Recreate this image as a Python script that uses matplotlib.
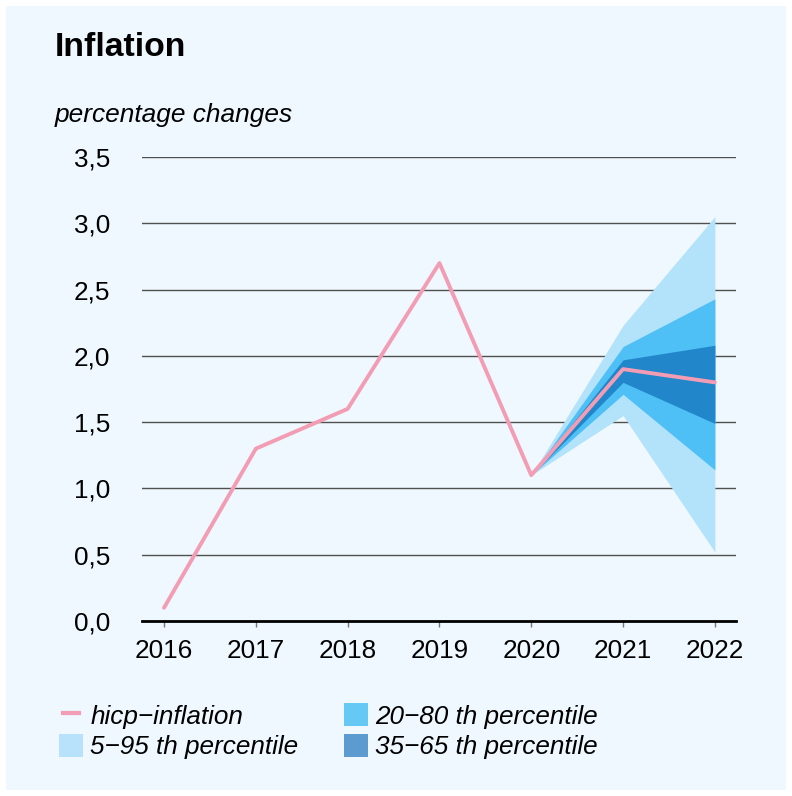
import numpy as np
import matplotlib
matplotlib.use('Agg')
from matplotlib import pyplot as plt
from matplotlib.patches import Rectangle, Patch
from matplotlib.lines import Line2D
from matplotlib.legend_handler import HandlerLine2D
from matplotlib.ticker import FuncFormatter

plt.rcParams['font.family'] = ['Liberation Sans', 'DejaVu Sans']

# data
years = [2016, 2017, 2018, 2019, 2020, 2021, 2022]
hicp = [0.1, 1.3, 1.6, 2.7, 1.1, 1.9, 1.8]

fan_years = [2020, 2021, 2022]
p05 = [1.1, 1.55, 0.52]
p95 = [1.1, 2.23, 3.05]
p20 = [1.1, 1.71, 1.14]
p80 = [1.1, 2.07, 2.43]
p35 = [1.1, 1.80, 1.49]
p65 = [1.1, 1.97, 2.08]

bg = '#eef8fe'
c_light, c_mid, c_dark = '#b3e2fb', '#4ec0f5', '#2186ca'
c_line = '#f29db4'


class ShortLine(HandlerLine2D):
    # legend line a bit shorter than the square patches
    def create_artists(self, legend, orig_handle, xdescent, ydescent,
                       width, height, fontsize, trans):
        return super().create_artists(legend, orig_handle,
                                      xdescent - 0.17 * width, ydescent,
                                      0.66 * width, height, fontsize, trans)


fig = plt.figure(figsize=(7.92, 7.96), dpi=100)
fig.patch.set_facecolor('white')
# light blue panel behind everything
fig.patches.append(Rectangle((6/792, 6/796), 780/792, 784/796,
                             transform=fig.transFigure, facecolor=bg,
                             edgecolor='none', zorder=-10))

ax = fig.add_axes([142/792, 1-621/796, 594/792, 464/796])
ax.set_facecolor('none')
ax.set_zorder(2)

# fan bands
ax.fill_between(fan_years, p05, p95, color=c_light, lw=0, zorder=2)
ax.fill_between(fan_years, p20, p80, color=c_mid, lw=0, zorder=3)
ax.fill_between(fan_years, p35, p65, color=c_dark, lw=0, zorder=4)
ax.plot(years, hicp, color=c_line, lw=2.8, zorder=5, solid_capstyle='round')

ax.set_xlim(2015.76, 2022.23)
ax.set_ylim(0, 3.5)
ax.set_yticks(np.arange(0, 3.51, 0.5))
ax.set_xticks(years)
ax.yaxis.set_major_formatter(FuncFormatter(lambda v, p: f"{v:.1f}".replace('.', ',')))
ax.grid(axis='y', color='#505050', lw=1.0, zorder=1)
ax.set_axisbelow(True)
for s in ['left', 'right', 'top']:
    ax.spines[s].set_visible(False)
ax.spines['bottom'].set_linewidth(2)
ax.spines['bottom'].set_zorder(6)
ax.tick_params(axis='y', length=0, pad=23, labelsize=18.8)
ax.tick_params(axis='x', length=4, width=1, color='#777777', pad=9, labelsize=18.8)

fig.text(55/792, 1-48/796, 'Inflation', fontsize=24.3, fontweight='bold', va='center')
fig.text(55/792, 1-115/796, 'percentage changes', fontsize=18.9, style='italic', va='center')

line_h = Line2D([], [], color=c_line, lw=3)
handles = [line_h,
           Patch(facecolor='#b8e2fb', edgecolor='none'),
           Patch(facecolor='#66c8f5', edgecolor='none'),
           Patch(facecolor='#5b9bd0', edgecolor='none')]
labels = ['hicp\u2212inflation', '5\u221295 th percentile',
          '20\u221280 th percentile', '35\u221265 th percentile']
leg = fig.legend(handles, labels, ncol=2, loc='upper left',
                 bbox_to_anchor=(59/792, 1-703/796), frameon=False,
                 prop={'size': 18.8, 'style': 'italic'},
                 handler_map={line_h: ShortLine()},
                 handlelength=0.93, handleheight=1.0, handletextpad=0.27,
                 columnspacing=1.75, labelspacing=0.2, borderpad=0,
                 borderaxespad=0)

fig.savefig('out.png', dpi=100)
